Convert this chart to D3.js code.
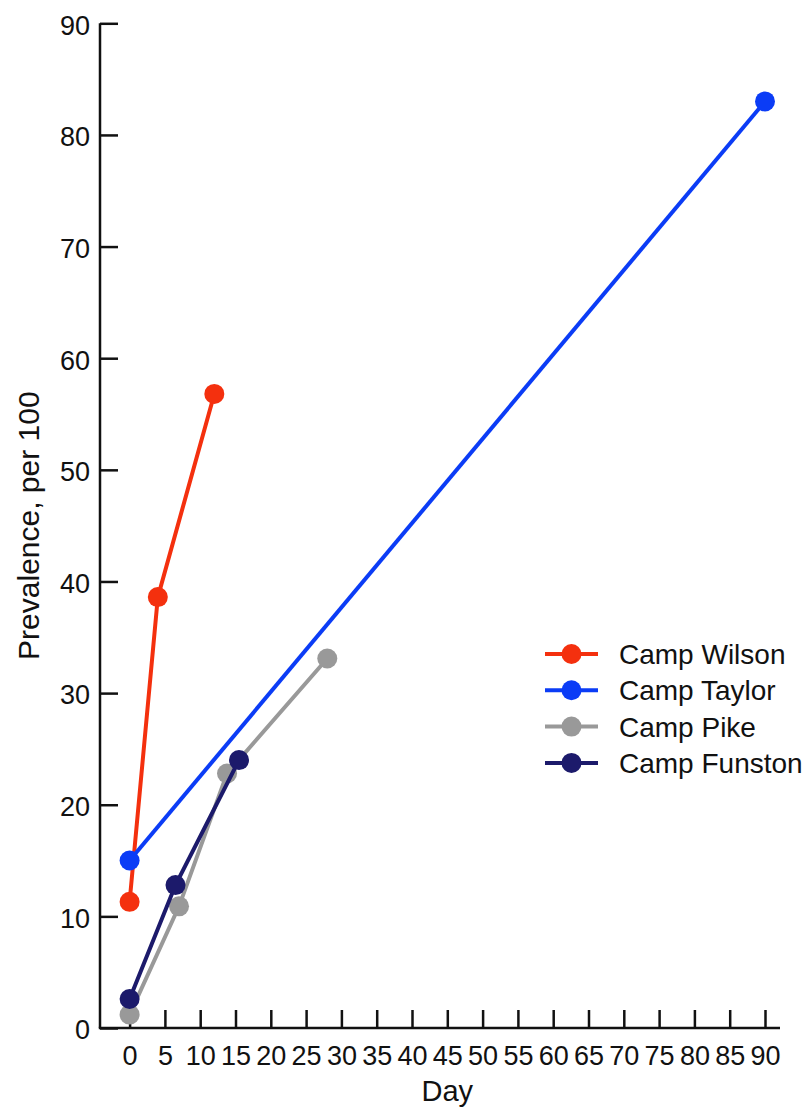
<!DOCTYPE html>
<html>
<head>
<meta charset="utf-8">
<script src="https://cdn.jsdelivr.net/npm/d3@7"></script>
<style>
  body { margin: 0; background: #fff; }
  text { font-family: "Liberation Sans", Arial, sans-serif; fill: #111; }
</style>
</head>
<body>
<svg id="chart" width="810" height="1110"></svg>
<script>
// data
const camps = ["Camp Wilson", "Camp Taylor", "Camp Pike", "Camp Funston"]
const colors = ["#f4300e", "#0b3cf6", "#999999", "#1c1a6b"]
const wilsonDays = [0, 4, 12]
const wilsonValues = [11.3, 38.6, 56.8]
const taylorDays = [0, 90]
const taylorValues = [15, 83]
const pikeDays = [0, 7, 13.8, 28]
const pikeValues = [1.2, 10.9, 22.8, 33.1]
const funstonDays = [0, 6.5, 15.5]
const funstonValues = [2.6, 12.8, 24]
const xTicks = d3.range(0, 91, 5)
const yTicks = d3.range(0, 91, 10)

const series = [
    [wilsonDays, wilsonValues],
    [taylorDays, taylorValues],
    [pikeDays, pikeValues],
    [funstonDays, funstonValues]
].map((s, i) => ({
    name: camps[i],
    color: colors[i],
    points: s[0].map((d, j) => ({ day: d, value: s[1][j] }))
}))

let svg = d3.select("#chart")

let xScale = d3.scaleLinear()
    .domain([0, 90])
    .range([129.6, 765])

let yScale = d3.scaleLinear()
    .domain([0, 90])
    .range([1028, 23.3])

let axisLeftX = 100
let axisRightX = 780

// axis lines
svg.append("line")
    .attr("x1", axisLeftX).attr("x2", axisLeftX)
    .attr("y1", yScale(90)).attr("y2", yScale(0))
    .style("stroke", "#111").style("stroke-width", 2.5)

svg.append("line")
    .attr("x1", axisLeftX - 1.2).attr("x2", axisRightX)
    .attr("y1", yScale(0)).attr("y2", yScale(0))
    .style("stroke", "#111").style("stroke-width", 2.5)

let xAxis = d3.axisBottom(xScale)
    .tickValues(xTicks)
    .tickSizeInner(-18)
    .tickSizeOuter(0)
    .tickPadding(30)

let yAxis = d3.axisLeft(yScale)
    .tickValues(yTicks)
    .tickSizeInner(-18)
    .tickSizeOuter(0)
    .tickPadding(28)

let gX = svg.append("g")
    .attr("transform", "translate(0," + yScale(0) + ")")
    .call(xAxis)

let gY = svg.append("g")
    .attr("transform", "translate(" + axisLeftX + ",0)")
    .call(yAxis)

gX.select(".domain").remove()
gY.select(".domain").remove()

svg.selectAll(".tick line")
    .style("stroke", "#111")
    .style("stroke-width", 2.5)

svg.selectAll(".tick text")
    .style("font-family", "'Liberation Sans', Arial, sans-serif")
    .style("font-size", "27px")
    .style("fill", "#111")

gX.selectAll(".tick text").attr("dy", "0.25em")
gY.selectAll(".tick text").attr("x", -10).attr("dy", "0.4em")

// axis titles
svg.append("text")
    .attr("x", (xScale(0) + xScale(90)) / 2)
    .attr("y", 1101)
    .style("text-anchor", "middle")
    .style("font-size", "29px")
    .text("Day")

svg.append("text")
    .attr("transform", "translate(39," + ((yScale(0) + yScale(90)) / 2) + ") rotate(-90)")
    .style("text-anchor", "middle")
    .style("font-size", "30px")
    .text("Prevalence, per 100")

// lines and points
let line = d3.line()
    .x(d => xScale(d.day))
    .y(d => yScale(d.value))

let groups = svg.selectAll(".camp")
    .data(series)
    .enter().append("g")
    .attr("class", "camp")

groups.append("path")
    .attr("d", d => line(d.points))
    .style("fill", "none")
    .style("stroke", d => d.color)
    .style("stroke-width", 4)

groups.selectAll("circle")
    .data(d => d.points.map(p => ({ ...p, color: d.color })))
    .enter().append("circle")
    .attr("cx", d => xScale(d.day))
    .attr("cy", d => yScale(d.value))
    .attr("r", 10)
    .style("fill", d => d.color)

// legend
let legend = svg.append("g")
    .attr("transform", "translate(545,654)")

let items = legend.selectAll(".item")
    .data(series)
    .enter().append("g")
    .attr("class", "item")
    .attr("transform", (d, i) => "translate(0," + (i * 36.3) + ")")

items.append("line")
    .attr("x1", 0).attr("x2", 53)
    .style("stroke", d => d.color)
    .style("stroke-width", 4)

items.append("circle")
    .attr("cx", 26.5)
    .attr("r", 10)
    .style("fill", d => d.color)

items.append("text")
    .attr("x", 74)
    .attr("dy", "0.36em")
    .style("font-size", "28px")
    .text(d => d.name)
</script>
</body>
</html>
